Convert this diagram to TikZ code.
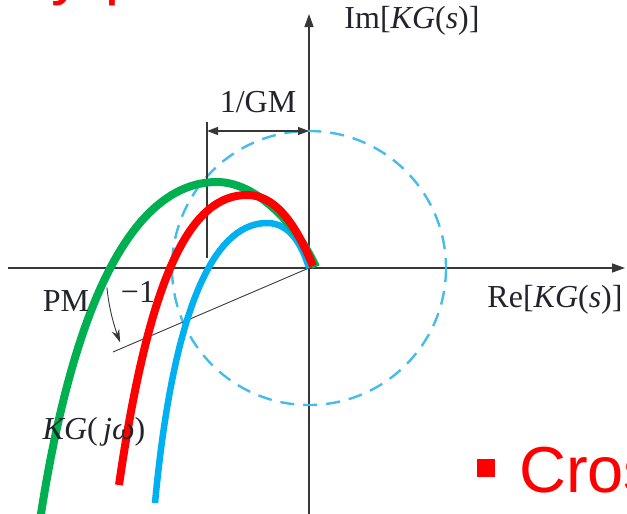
\documentclass[tikz,border=0pt]{standalone}
\usepackage{fontspec}
\setmainfont{Liberation Serif}
\newfontfamily\sansfont{Liberation Sans}
\usetikzlibrary{arrows.meta}
\definecolor{axisgray}{RGB}{55,55,55}
\definecolor{txtdark}{RGB}{35,35,45}
\definecolor{curveblue}{RGB}{0,176,240}
\definecolor{circblue}{RGB}{70,188,235}
\definecolor{curvegreen}{RGB}{0,176,80}
\definecolor{curvered}{RGB}{255,0,0}
\begin{document}
\begin{tikzpicture}[x=1pt,y=-1pt,
  axisline/.style={draw=axisgray,line width=1.4pt,-{Triangle[length=13pt,width=9pt]}},
  thinline/.style={draw=axisgray,line width=1.1pt},
  lbl/.style={text=txtdark,font=\fontsize{32}{38}\selectfont,inner sep=0pt},
  curve/.style={line width=8pt,line cap=butt,line join=round},
  redtxt/.style={text=curvered,font=\sansfont\fontsize{65}{70}\selectfont,inner sep=0pt,anchor=base west}]
\useasboundingbox (0,0) rectangle (627,514);
\clip (0,0) rectangle (627,514);

% coordinates
\coordinate (O) at (309,268);
\coordinate (xl) at (8,268);
\coordinate (xr) at (625,268);
\coordinate (yb) at (309,514);
\coordinate (yt) at (309,14);
\coordinate (gmtop) at (207,122);
\coordinate (gmbot) at (207,258);
\coordinate (gmL) at (207,131);
\coordinate (gmR) at (309,131);
\coordinate (pmend) at (113,352);

% axes
\draw[axisline] (xl) -- (xr);
\draw[axisline] (yb) -- (yt);

% unit circle
\draw[circblue,line width=2.4pt,dash pattern=on 14pt off 9pt] (O) circle[radius=137];

% 1/GM
\draw[thinline] (gmtop) -- (gmbot);
\draw[thinline,{Triangle[length=11pt,width=8pt]}-{Triangle[length=11pt,width=8pt]}] (gmL) -- (gmR);

% PM line and arc
\draw[thinline,line width=0.9pt] (O) -- (pmend);
\draw[thinline,line width=0.9pt,-{Stealth[length=13pt,width=8pt]}]
  plot[smooth,domain=185.5:201.5,samples=12] ({309+203*cos(\x)},{268-203*sin(\x)});

% curves
\coordinate (bb) at (155,503);
\coordinate (bp) at (267,223);
\coordinate (gb) at (40,520);
\coordinate (gp) at (217,182);
\coordinate (ge) at (316,267);
\coordinate (rb) at (119,485);
\coordinate (rp) at (247,195);
\coordinate (re0) at (313,266);
\draw[curve,curveblue,line width=6.5pt] (bb) .. controls (175,290) and (220,223) .. (bp)
  .. controls (290,223) and (302,245) .. (O);
\draw[curve,curvegreen] (gb) .. controls (80,260) and (150,182) .. (gp)
  .. controls (255,182) and (295,222) .. (ge);
\draw[curve,curvered] (rb) .. controls (150,270) and (192,195) .. (rp)
  .. controls (280,195) and (300,235) .. (re0);

% labels
\node[lbl] (gm) at (258,102) {1/GM};
\node[lbl] (im) at (412,21) {Im[\textit{KG}(\textit{s})]};
\node[lbl] (re) at (555,300) {Re[\textit{KG}(\textit{s})]};
\node[lbl] (pm) at (66,301) {PM};
\node[lbl] (m1) at (138,292) {−1};
\node[lbl] (kg) at (94,432) {\textit{KG}(\,\textit{jω})};

% slide fragments
\node[redtxt] (title) at (4,-7) {Nyquist};
\node[fill=curvered,minimum size=18pt,inner sep=0pt] (bullet) at (485.5,468) {};
\node[redtxt] (cross) at (519,492) {Crossover};
\end{tikzpicture}
\end{document}
